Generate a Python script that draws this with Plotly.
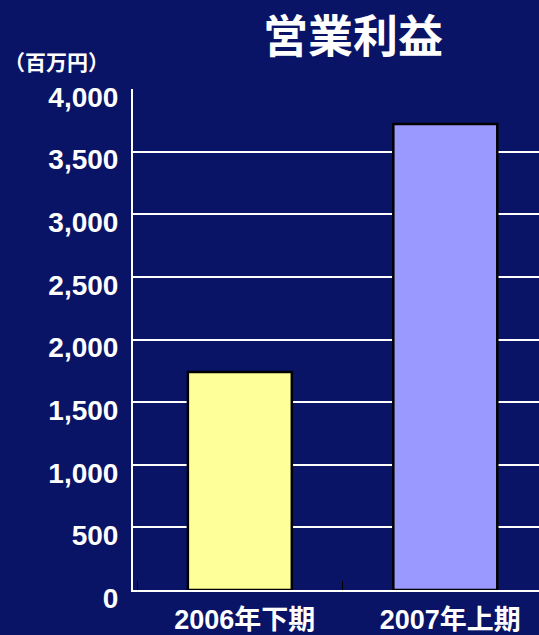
import plotly.graph_objects as go

categories = ["2006年下期", "2007年上期"]
values = [1740, 3720]
bar_colors = ["#FFFF99", "#9999FF"]
title_text = "営業利益"
unit_text = "（百万円）"

BG = "#0A1466"
LATIN = "Liberation Sans, Arial, sans-serif"
CJK = "Liberation Sans, Noto Sans CJK JP, sans-serif"

fig = go.Figure()
fig.add_trace(go.Bar(
    x=categories, y=values,
    marker=dict(color=bar_colors, line=dict(color="black", width=2.5)),
    width=0.506,
))

fig.update_layout(
    width=539, height=635,
    paper_bgcolor=BG, plot_bgcolor=BG,
    margin=dict(l=133, r=0, t=89, b=45),
    showlegend=False,
    font=dict(family=CJK, color="white"),
    annotations=[
        dict(text="<b>" + title_text + "</b>", xref="paper", yref="paper",
             x=0.542, y=1.110, xanchor="center", yanchor="middle", showarrow=False,
             font=dict(size=45, color="white", family="Noto Sans CJK JP")),
        dict(text="<b>" + unit_text + "</b>", xref="paper", yref="paper",
             x=-0.188, y=1.056, xanchor="center", yanchor="middle", showarrow=False,
             font=dict(size=21, color="white", family="Noto Sans CJK JP")),
    ],
)

fig.update_xaxes(
    range=[-0.52, 1.456],
    showline=True, linecolor="white", linewidth=2,
    showgrid=False,
    ticks="inside", tickson="boundaries", ticklen=9, tickcolor="black", tickwidth=1,
    tickfont=dict(size=27, color="white", family=CJK),
    tickvals=categories,
    ticktext=["<b>" + c + "</b>" for c in categories],
    ticklabelstandoff=5, ticklabelshift=5,
)

fig.update_yaxes(
    range=[0, 4000], dtick=500, tickformat=",",
    showline=True, linecolor="white", linewidth=2,
    showgrid=True, gridcolor="white", gridwidth=1.5,
    zeroline=False,
    ticks="", ticklabelstandoff=7, ticklabelshift=8,
    tickfont=dict(size=28, color="white", family=LATIN),
    tickprefix="<b>", ticksuffix="</b>",
)

fig.write_html(
    "out.html",
    config={"displayModeBar": False},
    post_script="document.body.style.margin='0';document.body.style.background='" + BG + "';",
)
